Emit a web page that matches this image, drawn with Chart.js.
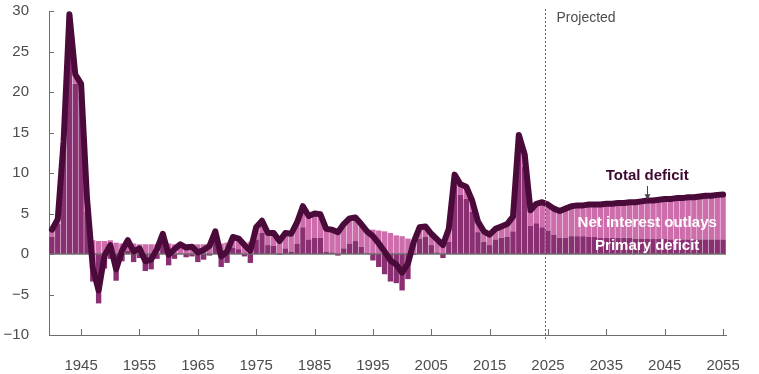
<!DOCTYPE html>
<html lang="en">
<head>
<meta charset="utf-8">
<title>Deficit</title>
<script src="https://cdn.jsdelivr.net/npm/chart.js@4.4.1/dist/chart.umd.min.js"></script>
<style>
  html, body { margin: 0; padding: 0; background: #fff; }
</style>
</head>
<body>
<canvas id="chart" width="759" height="374"></canvas>
<script>
// Percentage of GDP, fiscal years 1940-2055 (projected from 2025)
const YEARS = [
    1940, 1941, 1942, 1943, 1944, 1945, 1946, 1947, 1948, 1949,
    1950, 1951, 1952, 1953, 1954, 1955, 1956, 1957, 1958, 1959,
    1960, 1961, 1962, 1963, 1964, 1965, 1966, 1967, 1968, 1969,
    1970, 1971, 1972, 1973, 1974, 1975, 1976, 1977, 1978, 1979,
    1980, 1981, 1982, 1983, 1984, 1985, 1986, 1987, 1988, 1989,
    1990, 1991, 1992, 1993, 1994, 1995, 1996, 1997, 1998, 1999,
    2000, 2001, 2002, 2003, 2004, 2005, 2006, 2007, 2008, 2009,
    2010, 2011, 2012, 2013, 2014, 2015, 2016, 2017, 2018, 2019,
    2020, 2021, 2022, 2023, 2024, 2025, 2026, 2027, 2028, 2029,
    2030, 2031, 2032, 2033, 2034, 2035, 2036, 2037, 2038, 2039,
    2040, 2041, 2042, 2043, 2044, 2045, 2046, 2047, 2048, 2049,
    2050, 2051, 2052, 2053, 2054, 2055
];

const TOTAL_DEFICIT = [
    3.0, 4.3, 13.9, 29.6, 22.2, 21.0, 7.0, -1.7, -4.5, -0.2,
    1.1, -1.9, 0.4, 1.7, 0.3, 0.7, -0.9, -0.7, 0.6, 2.5,
    -0.1, 0.6, 1.2, 0.8, 0.9, 0.2, 0.5, 1.0, 2.8, -0.3,
    0.3, 2.1, 1.9, 1.1, 0.4, 3.3, 4.1, 2.6, 2.6, 1.6,
    2.6, 2.5, 3.9, 5.9, 4.7, 5.0, 4.9, 3.1, 3.0, 2.7,
    3.7, 4.4, 4.5, 3.7, 2.8, 2.2, 1.3, 0.3, -0.8, -1.3,
    -2.3, -1.2, 1.5, 3.3, 3.4, 2.5, 1.8, 1.1, 3.1, 9.8,
    8.6, 8.3, 6.6, 4.0, 2.8, 2.4, 3.1, 3.4, 3.7, 4.6,
    14.7, 12.3, 5.4, 6.2, 6.4, 6.1, 5.6, 5.3, 5.6, 5.9,
    6.0, 6.0, 6.1, 6.1, 6.1, 6.2, 6.2, 6.3, 6.3, 6.4,
    6.4, 6.5, 6.6, 6.6, 6.7, 6.8, 6.8, 6.9, 6.9, 7.0,
    7.0, 7.1, 7.2, 7.2, 7.3, 7.35
];

const NET_INTEREST = [
    0.9, 0.6, 0.6, 0.8, 1.2, 1.4, 1.8, 1.7, 1.6, 1.6,
    1.7, 1.4, 1.3, 1.3, 1.3, 1.2, 1.2, 1.2, 1.2, 1.2,
    1.3, 1.2, 1.2, 1.2, 1.2, 1.2, 1.2, 1.2, 1.2, 1.3,
    1.4, 1.3, 1.3, 1.4, 1.5, 1.5, 1.5, 1.5, 1.6, 1.7,
    1.9, 2.2, 2.6, 2.6, 2.9, 3.0, 2.9, 2.8, 2.8, 2.9,
    3.0, 3.1, 2.9, 2.8, 2.7, 3.0, 2.9, 2.8, 2.6, 2.3,
    2.2, 1.9, 1.6, 1.4, 1.3, 1.4, 1.6, 1.6, 1.6, 1.3,
    1.3, 1.5, 1.4, 1.3, 1.3, 1.3, 1.3, 1.4, 1.6, 1.8,
    1.6, 1.5, 1.9, 2.4, 3.1, 3.2, 3.2, 3.3, 3.6, 3.7,
    3.8, 3.8, 4.0, 4.0, 4.1, 4.2, 4.2, 4.3, 4.3, 4.4,
    4.5, 4.6, 4.7, 4.7, 4.8, 4.9, 5.0, 5.1, 5.1, 5.2,
    5.2, 5.3, 5.4, 5.4, 5.5, 5.55
];

const PRIMARY_DEFICIT = [
    2.1, 3.7, 13.3, 28.8, 21.0, 19.6, 5.2, -3.4, -6.1, -1.8,
    -0.6, -3.3, -0.9, 0.4, -1.0, -0.5, -2.1, -1.9, -0.6, 1.3,
    -1.4, -0.6, 0.0, -0.4, -0.3, -1.0, -0.7, -0.2, 1.6, -1.6,
    -1.1, 0.8, 0.6, -0.3, -1.1, 1.8, 2.6, 1.1, 1.0, -0.1,
    0.7, 0.3, 1.3, 3.3, 1.8, 2.0, 2.0, 0.3, 0.2, -0.2,
    0.7, 1.3, 1.6, 0.9, 0.1, -0.8, -1.6, -2.5, -3.4, -3.6,
    -4.5, -3.1, -0.1, 1.9, 2.1, 1.1, 0.2, -0.5, 1.5, 8.5,
    7.3, 6.8, 5.2, 2.7, 1.5, 1.1, 1.8, 2.0, 2.1, 2.8,
    13.1, 10.8, 3.5, 3.8, 3.3, 2.9, 2.4, 2.0, 2.0, 2.2,
    2.2, 2.2, 2.1, 2.1, 2.0, 2.0, 2.0, 2.0, 2.0, 2.0,
    1.9, 1.9, 1.9, 1.9, 1.9, 1.9, 1.8, 1.8, 1.8, 1.8,
    1.8, 1.8, 1.8, 1.8, 1.8, 1.8
];

const X_TICK_YEARS = [1945, 1955, 1965, 1975, 1985, 1995, 2005, 2015, 2025, 2035, 2045, 2055];
const Y_TICKS = [-10, -5, 0, 5, 10, 15, 20, 25, 30];
const LAST_ACTUAL_YEAR = 2024;
const LABEL_YEAR = 2042;

const COLORS = {
    primary: '#8a2f72',
    interest: '#cd6dab',
    total: '#4a0b3b',
    axis: '#6e6e6e',
    text: '#4d4d4d',
    title: '#3d0a30'
};
const FONT = '"Liberation Sans", Arial, sans-serif';

// zero line under the total line, inward tick marks, projection marker and labels
const overlay = {
    id: 'overlay',
    beforeDatasetDraw(chart, args) {
        if (args.meta.type !== 'line') return;
        const { ctx, chartArea, scales: { y } } = chart;
        const y0 = y.getPixelForValue(0);
        ctx.save();
        ctx.strokeStyle = COLORS.axis;
        ctx.lineWidth = 1.5;
        ctx.beginPath();
        ctx.moveTo(chartArea.left, y0);
        ctx.lineTo(chartArea.right, y0);
        ctx.stroke();
        ctx.restore();
    },
    afterDraw(chart) {
        const { ctx, chartArea, scales: { x, y } } = chart;
        ctx.save();

        // tick marks pointing into the plot
        ctx.strokeStyle = COLORS.axis;
        ctx.lineWidth = 1;
        ctx.beginPath();
        Y_TICKS.forEach(v => {
            const py = Math.round(y.getPixelForValue(v)) + 0.5;
            ctx.moveTo(chartArea.left, py);
            ctx.lineTo(chartArea.left + 5, py);
        });
        X_TICK_YEARS.forEach(yr => {
            const px = Math.round(x.getPixelForValue(YEARS.indexOf(yr))) + 0.5;
            ctx.moveTo(px, chartArea.bottom);
            ctx.lineTo(px, chartArea.bottom - 6);
        });
        ctx.stroke();

        // projection divider
        const i = YEARS.indexOf(LAST_ACTUAL_YEAR);
        const divX = Math.round((x.getPixelForValue(i) + x.getPixelForValue(i + 1)) / 2) + 0.5;
        ctx.strokeStyle = '#666';
        ctx.setLineDash([2, 2]);
        ctx.beginPath();
        ctx.moveTo(divX, chartArea.top - 2);
        ctx.lineTo(divX, chartArea.bottom + 6);
        ctx.stroke();
        ctx.setLineDash([]);

        ctx.fillStyle = COLORS.text;
        ctx.font = '14px ' + FONT;
        ctx.textAlign = 'left';
        ctx.textBaseline = 'middle';
        ctx.fillText('Projected', divX + 11, chartArea.top + 7);

        // series labels
        const lx = x.getPixelForValue(YEARS.indexOf(LABEL_YEAR));
        ctx.textAlign = 'center';
        ctx.font = 'bold 15px ' + FONT;
        ctx.fillStyle = COLORS.title;
        ctx.fillText('Total deficit', lx, y.getPixelForValue(9.7));
        ctx.fillStyle = '#fff';
        ctx.fillText('Net interest outlays', lx, y.getPixelForValue(3.9));
        ctx.fillText('Primary deficit', lx, y.getPixelForValue(0.95));

        // arrow from label to line
        const ay0 = y.getPixelForValue(8.4);
        const ay1 = y.getPixelForValue(6.75);
        const ax = Math.round(lx) + 0.5;
        ctx.strokeStyle = '#444';
        ctx.fillStyle = '#444';
        ctx.lineWidth = 1;
        ctx.beginPath();
        ctx.moveTo(ax, ay0);
        ctx.lineTo(ax, ay1 - 4);
        ctx.stroke();
        ctx.beginPath();
        ctx.moveTo(ax - 3, ay1 - 5);
        ctx.lineTo(ax + 3, ay1 - 5);
        ctx.lineTo(ax, ay1);
        ctx.closePath();
        ctx.fill();

        ctx.restore();
    }
};

new Chart(document.getElementById('chart'), {
    data: {
        labels: YEARS,
        datasets: [
            {
                type: 'line',
                label: 'Total deficit',
                data: TOTAL_DEFICIT,
                borderColor: COLORS.total,
                borderWidth: 6,
                borderJoinStyle: 'round',
                borderCapStyle: 'round',
                pointRadius: 0,
                tension: 0,
                fill: false,
                stack: 'total',
                order: 0
            },
            {
                type: 'bar',
                label: 'Primary deficit',
                data: PRIMARY_DEFICIT,
                backgroundColor: COLORS.primary,
                barPercentage: 0.92,
                categoryPercentage: 1,
                stack: 'parts',
                order: 1
            },
            {
                type: 'bar',
                label: 'Net interest outlays',
                data: NET_INTEREST,
                backgroundColor: COLORS.interest,
                barPercentage: 0.92,
                categoryPercentage: 1,
                stack: 'parts',
                order: 2
            }
        ]
    },
    options: {
        responsive: false,
        animation: false,
        layout: { padding: { top: 11, right: 33, left: 0, bottom: 0 } },
        plugins: {
            legend: { display: false },
            tooltip: { enabled: false }
        },
        scales: {
            x: {
                type: 'category',
                offset: true,
                grid: { display: false, drawTicks: false },
                border: { display: true, color: COLORS.axis, width: 1 },
                ticks: {
                    autoSkip: false,
                    maxRotation: 0,
                    minRotation: 0,
                    padding: 22,
                    color: COLORS.text,
                    font: { family: FONT, size: 15 },
                    callback: (value, index) => X_TICK_YEARS.includes(YEARS[index]) ? String(YEARS[index]) : ''
                },
                afterFit: scale => {
                    scale.height = 39;
                    scale.paddingLeft = 0;
                    scale.paddingRight = 0;
                }
            },
            y: {
                stacked: true,
                min: -10,
                max: 30,
                grid: { display: false, drawTicks: false },
                border: { display: true, color: COLORS.axis, width: 1 },
                ticks: {
                    stepSize: 5,
                    padding: 20,
                    color: COLORS.text,
                    font: { family: FONT, size: 15 },
                    callback: v => String(v).replace('-', '\u2212')
                },
                afterFit: scale => {
                    scale.width = 49;
                    scale.paddingTop = 0;
                    scale.paddingBottom = 0;
                }
            }
        }
    },
    plugins: [overlay]
});
</script>
</body>
</html>
